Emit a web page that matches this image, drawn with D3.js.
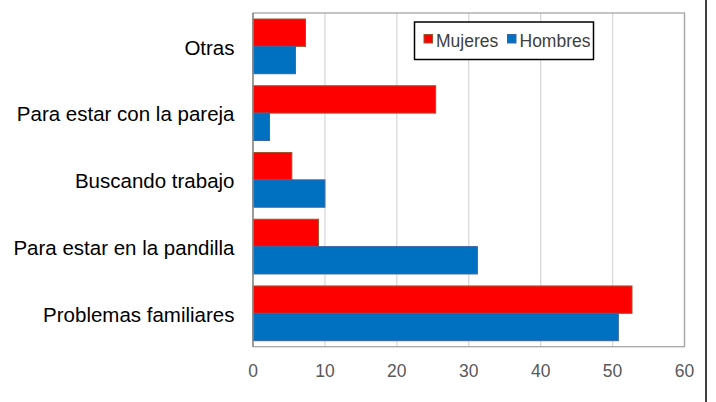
<!DOCTYPE html>
<html>
  <head>
    <meta charset="utf-8">
    <title>Motivos</title>
    <style>
      body { margin: 0; background: #fff; }
      text { font-family: "Liberation Sans", Arial, sans-serif; }
    </style>
  </head>
  <body>
    <script src="https://d3js.org/d3.v7.min.js"></script>
    <script>
      const categories = ["Otras", "Para estar con la pareja", "Buscando trabajo", "Para estar en la pandilla", "Problemas familiares"];
      const series = ["Mujeres", "Hombres"];
      const mujeres = [7.3, 25.4, 5.4, 9.1, 52.7];
      const hombres = [5.9, 2.3, 10.0, 31.2, 50.8];
      const ticks = [0, 10, 20, 30, 40, 50, 60];

      const fills = { Mujeres: "#ff0000", Hombres: "#0070c0" };
      const strokes = { Mujeres: "#a0522d", Hombres: "#3b64a8" };

      const width = 716, height = 402;
      const plotL = 253, plotR = 684.5, plotT = 13, plotB = 346.7;

      const svg = d3.select("body").append("svg")
        .attr("width", width)
        .attr("height", height);

      const x = d3.scaleLinear().domain([0, 60]).range([plotL, plotR]);
      const y = d3.scaleBand().domain(categories).range([plotT, plotB])
        .paddingInner(0.18).paddingOuter(0.09);
      const ySub = d3.scaleBand().domain(series).range([0, y.bandwidth()]);

      // grid
      svg.append("g")
        .selectAll("line")
        .data(ticks.slice(1))
        .enter()
        .append("line")
        .attr("x1", d => x(d)).attr("x2", d => x(d))
        .attr("y1", plotT).attr("y2", plotB)
        .attr("stroke", "#d9d9d9")
        .attr("stroke-width", 1.3);

      // frame
      svg.append("rect")
        .attr("x", plotL).attr("y", plotT)
        .attr("width", plotR - plotL).attr("height", plotB - plotT)
        .attr("fill", "none")
        .attr("stroke", "#a6a6a6")
        .attr("stroke-width", 1.3);

      const rows = categories.map((c, i) => ({ c, Mujeres: mujeres[i], Hombres: hombres[i] }));

      const g = svg.append("g")
        .selectAll("g")
        .data(rows)
        .enter()
        .append("g")
        .attr("transform", d => `translate(0,${y(d.c)})`);

      g.selectAll("rect")
        .data(d => series.map(s => ({ s, v: d[s] })))
        .enter()
        .append("rect")
        .attr("x", x(0))
        .attr("y", d => ySub(d.s))
        .attr("width", d => x(d.v) - x(0))
        .attr("height", ySub.bandwidth())
        .attr("fill", d => fills[d.s])
        .attr("stroke", d => strokes[d.s])
        .attr("stroke-width", 1);

      // left axis line
      svg.append("line")
        .attr("x1", plotL).attr("x2", plotL)
        .attr("y1", plotT).attr("y2", plotB)
        .attr("stroke", "#8c8c8c")
        .attr("stroke-width", 1.5);

      // category labels
      svg.append("g")
        .selectAll("text")
        .data(categories)
        .enter()
        .append("text")
        .attr("x", 234.5)
        .attr("y", d => y(d) + y.bandwidth() / 2 + 1)
        .attr("dy", "0.35em")
        .attr("text-anchor", "end")
        .attr("font-size", "20.5px")
        .attr("fill", "#000")
        .text(d => d);

      // tick labels
      svg.append("g")
        .selectAll("text")
        .data(ticks)
        .enter()
        .append("text")
        .attr("x", d => x(d))
        .attr("y", 376.5)
        .attr("text-anchor", "middle")
        .attr("font-size", "17.5px")
        .attr("fill", "#595959")
        .text(d => d);

      // legend
      const lg = svg.append("g");
      lg.append("rect")
        .attr("x", 414.5).attr("y", 22)
        .attr("width", 179).attr("height", 37.5)
        .attr("fill", "#fff")
        .attr("stroke", "#000")
        .attr("stroke-width", 1.5);
      const lx = { Mujeres: 424, Hombres: 507.5 };
      series.forEach(s => {
        lg.append("rect")
          .attr("x", lx[s]).attr("y", 34.5)
          .attr("width", 8.5).attr("height", 8.5)
          .attr("fill", fills[s])
          .attr("stroke", strokes[s])
          .attr("stroke-width", 1);
        lg.append("text")
          .attr("x", lx[s] + 12)
          .attr("y", 46.5)
          .attr("font-size", "17.5px")
          .attr("fill", "#404040")
          .text(s);
      });

      // outer border
      svg.append("line")
        .attr("x1", 706).attr("x2", 706)
        .attr("y1", 0).attr("y2", height)
        .attr("stroke", "#000")
        .attr("stroke-width", 1.5);
    </script>
  </body>
</html>
